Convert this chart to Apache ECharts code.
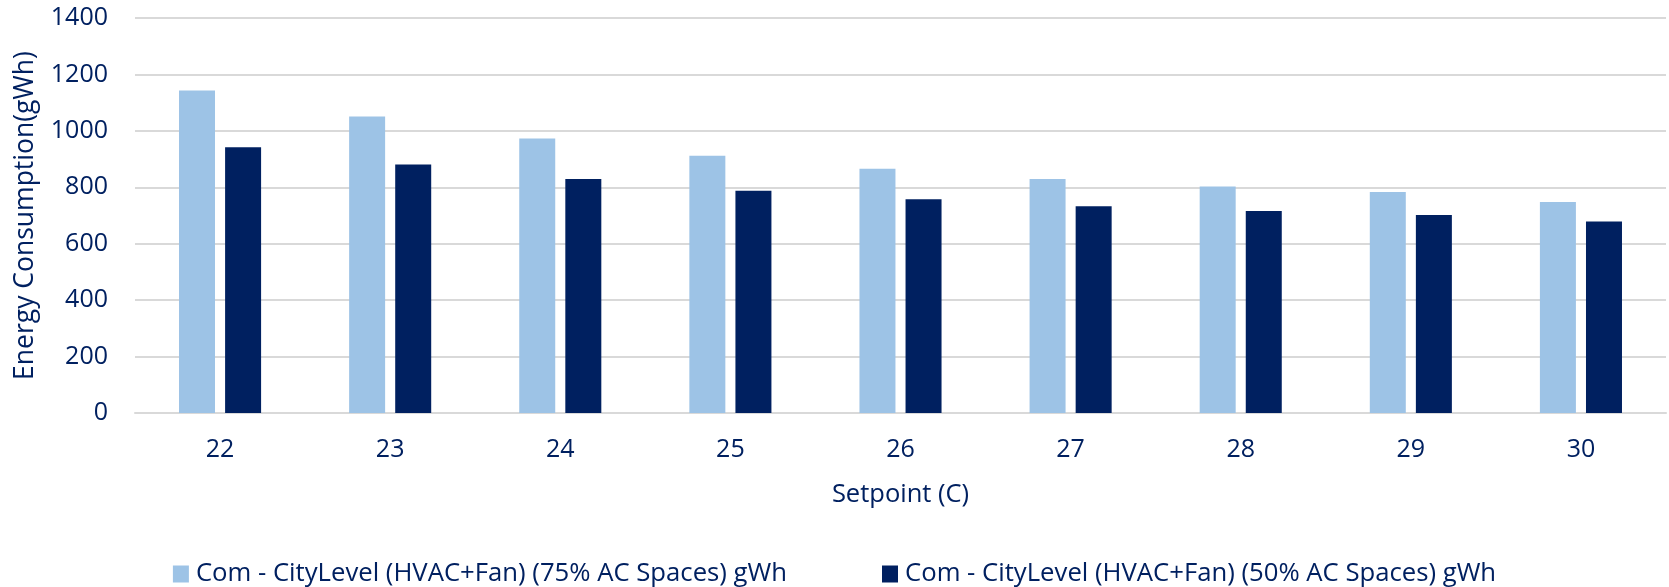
<!DOCTYPE html>
<html>
<head>
<meta charset="utf-8">
<script src="https://cdn.jsdelivr.net/npm/echarts@6/dist/echarts.min.js"></script>
<style>
html,body{margin:0;padding:0;background:#fff;}
#chart{width:1669px;height:587px;}
</style>
</head>
<body>
<div id="chart"></div>
<script>
const categories = ['22','23','24','25','26','27','28','29','30'];
const series75 = [1143, 1051, 973, 912, 866, 829, 803, 783, 748];
const series50 = [942, 881, 829, 788, 758, 733, 716, 702, 679];
const seriesNames = ['Com - CityLevel (HVAC+Fan) (75% AC Spaces) gWh', 'Com - CityLevel (HVAC+Fan) (50% AC Spaces) gWh'];
const yTicks = [0, 200, 400, 600, 800, 1000, 1200, 1400];

const textColor = '#002060';
const fontFam = '"Open Sans", "Noto Sans", sans-serif';
const chart = echarts.init(document.getElementById('chart'));
chart.setOption({
  animation: false,
  textStyle: {fontFamily: fontFam, color: textColor},
  grid: {left: 135, right: 3, top: 18, bottom: 174, containLabel: false},
  legend: {
    top: 556, left: 'center', itemWidth: 16, itemHeight: 17, itemGap: 95,
    icon: 'rect',
    textStyle: {fontFamily: fontFam, color: textColor, fontSize: 25.7, padding: [0, 0, 0, 2]},
    data: seriesNames
  },
  xAxis: {
    type: 'category', data: categories,
    name: 'Setpoint (C)', nameLocation: 'middle', nameGap: 69,
    nameTextStyle: {fontFamily: fontFam, color: textColor, fontSize: 25.5},
    axisLine: {show: true, lineStyle: {color: '#d9d9d9', width: 2}},
    axisTick: {show: false},
    axisLabel: {color: textColor, fontSize: 25, margin: 24, fontFamily: fontFam}
  },
  yAxis: {
    type: 'value', min: yTicks[0], max: yTicks[yTicks.length-1], interval: 200,
    name: 'Energy Consumption(gWh)', nameLocation: 'middle', nameGap: 96, nameRotate: 90,
    nameTextStyle: {fontFamily: fontFam, color: textColor, fontSize: 26.5},
    axisLine: {show: false}, axisTick: {show: false},
    axisLabel: {color: textColor, fontSize: 25, margin: 27, fontFamily: fontFam,
                formatter: v => String(v)},
    splitLine: {lineStyle: {color: '#d9d9d9', width: 2}}
  },
  series: [
    {name: seriesNames[0], type: 'bar', data: series75, barWidth: 36, barGap: '28%',
     itemStyle: {color: '#9DC3E6'}},
    {name: seriesNames[1], type: 'bar', data: series50, barWidth: 36,
     itemStyle: {color: '#002060'}}
  ]
});
</script>
</body>
</html>
